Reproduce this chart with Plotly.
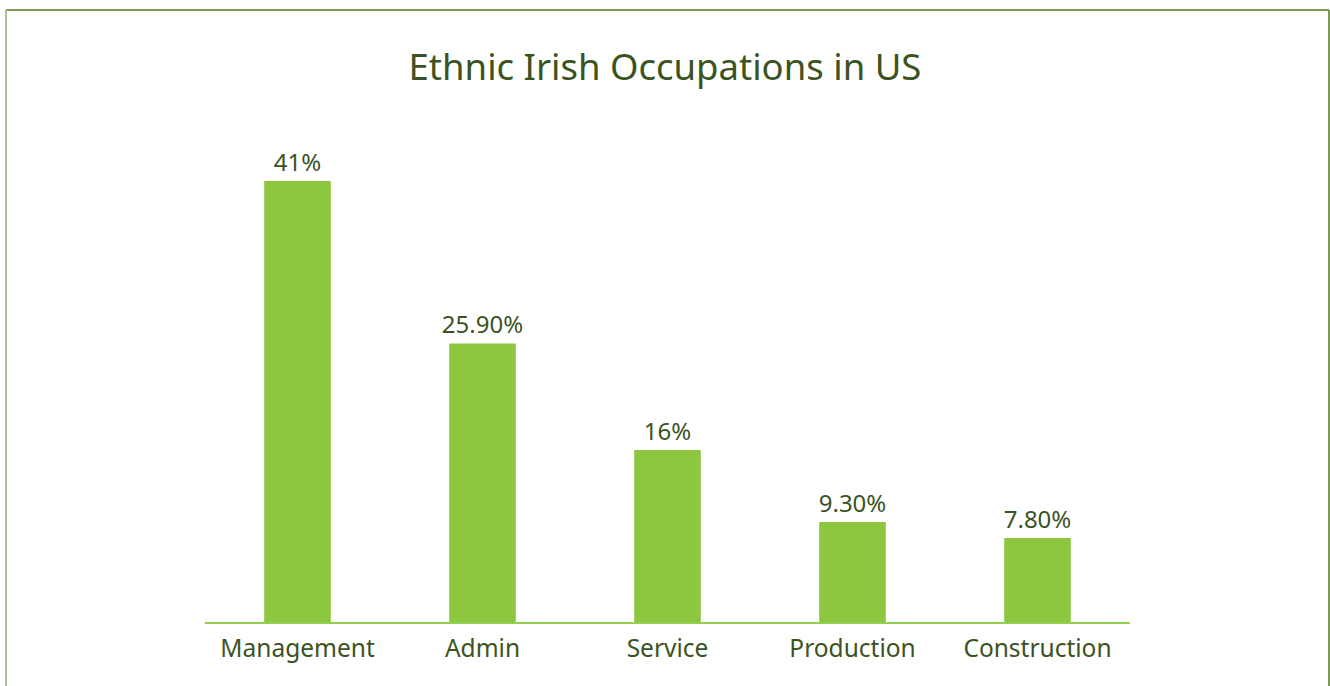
import plotly.graph_objects as go

categories = ["Management", "Admin", "Service", "Production", "Construction"]
values = [41, 25.9, 16, 9.3, 7.8]
labels = ["41%", "25.90%", "16%", "9.30%", "7.80%"]

W, H = 1330, 686
L, R, T, B = 205, 200, 181, 64
pw, ph = W - L - R, H - T - B

def px(x):
    return (x - L) / pw

def py(y):
    return (H - B - y) / ph

text_color = "#3b5323"
fig = go.Figure(go.Bar(
    x=categories, y=values, text=labels, textposition="outside",
    marker=dict(color="#8dc63f", line=dict(width=0)),
    textfont=dict(size=24, color=text_color, family="Noto Sans"),
    constraintext="none",
    cliponaxis=False, width=0.36,
))

fig.update_layout(
    width=W, height=H,
    margin=dict(l=L, r=R, t=T, b=B),
    paper_bgcolor="white", plot_bgcolor="white",
    font=dict(family="Noto Sans", color=text_color),
    title=dict(text="Ethnic Irish Occupations in US", x=0.5, xanchor="center",
               y=1 - 67 / H, yanchor="middle", yref="container",
               font=dict(size=36.5, color=text_color, family="Noto Sans")),
    showlegend=False,
    xaxis=dict(showline=True, linecolor="#92d050", linewidth=2, ticks="",
               tickfont=dict(size=24.5, color=text_color), showgrid=False,
               zeroline=False, ticklabelstandoff=4),
    yaxis=dict(range=[0, 41], visible=False, showgrid=False, zeroline=False),
    shapes=[
        dict(type="line", xref="paper", yref="paper", x0=px(6), x1=px(1329),
             y0=py(10), y1=py(10), line=dict(color="#7a9a55", width=2)),
        dict(type="line", xref="paper", yref="paper", x0=px(6), x1=px(6),
             y0=py(10), y1=py(700), line=dict(color="#a8c48a", width=2)),
        dict(type="line", xref="paper", yref="paper", x0=px(1329), x1=px(1329),
             y0=py(10), y1=py(700), line=dict(color="#7a9a55", width=2)),
    ],
)

fig.write_html("out.html", config={"displayModeBar": False},
               post_script="document.body.style.margin='0';")
